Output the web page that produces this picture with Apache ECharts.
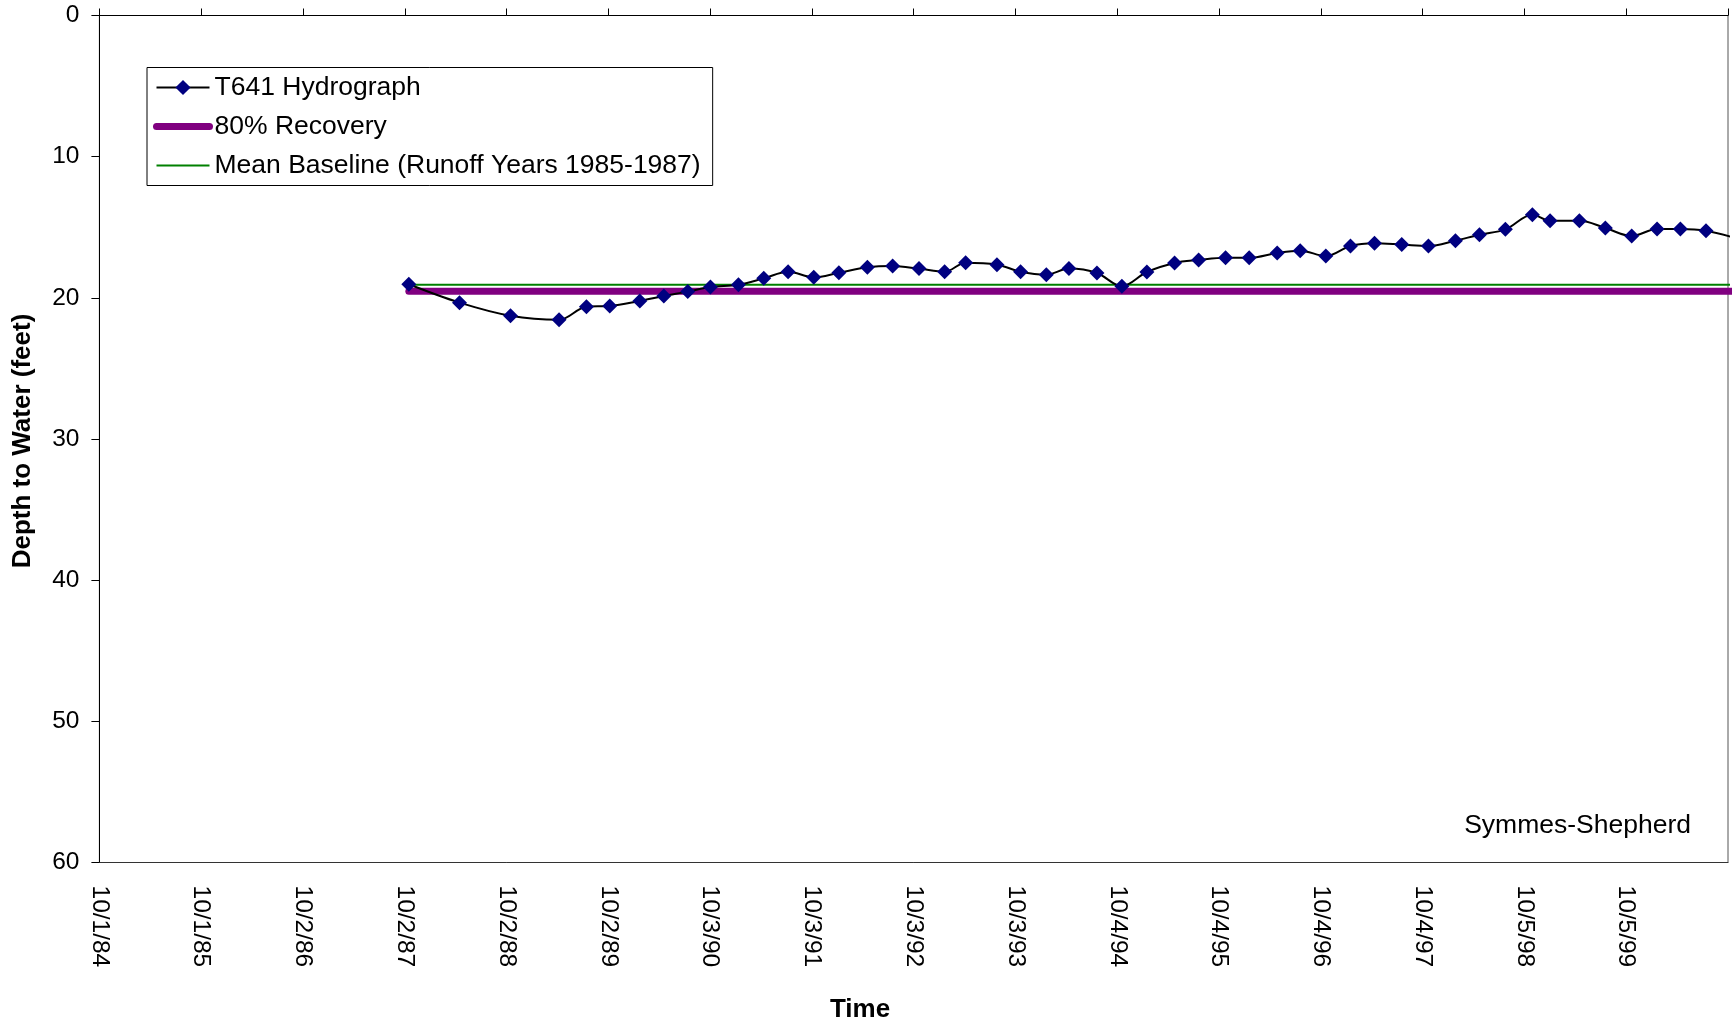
<!DOCTYPE html>
<html>
<head>
<meta charset="utf-8">
<script src="https://cdn.jsdelivr.net/npm/echarts@6/dist/echarts.min.js"></script>
<style>
html,body{margin:0;padding:0;background:#fff;}
#chart{width:1732px;height:1028px;}
</style>
</head>
<body>
<div id="chart"></div>
<script>
// X tick labels (one per year step from 10/1/84)
const tickLabels = ['10/1/84','10/1/85','10/2/86','10/2/87','10/2/88','10/2/89','10/3/90','10/3/91',
  '10/3/92','10/3/93','10/4/94','10/4/95','10/4/96','10/4/97','10/5/98','10/5/99'];

// Hydrograph: time in years after 10/1/84, depth to water (feet)
const hydroYears = [3.040,3.538,4.039,4.516,4.785,5.014,5.309,5.545,5.780,6.003,6.278,6.527,6.766,7.018,
  7.265,7.545,7.793,8.052,8.304,8.510,8.818,9.050,9.303,9.525,9.800,10.045,10.291,10.563,10.799,11.064,
  11.296,11.571,11.797,12.049,12.291,12.527,12.795,13.057,13.322,13.558,13.813,14.078,14.252,14.540,
  14.795,15.054,15.303,15.532,15.784,16.040];
const hydroDepth = [19.04,20.34,21.27,21.55,20.63,20.58,20.22,19.87,19.56,19.23,19.07,18.62,18.15,18.55,
  18.22,17.84,17.75,17.93,18.15,17.51,17.65,18.15,18.36,17.93,18.24,19.18,18.17,17.53,17.32,17.16,
  17.16,16.82,16.66,17.04,16.33,16.14,16.23,16.33,15.95,15.53,15.15,14.11,14.54,14.54,
  15.05,15.62,15.12,15.12,15.24,15.70];

// 80% Recovery and Mean Baseline levels
const recoveryYears = [3.040, 16.040];
const recoveryDepth = [19.54, 19.54];
const baselineYears = [3.040, 16.040];
const baselineDepth = [19.07, 19.07];

const yTicks = [0, 10, 20, 30, 40, 50, 60];

const FONT = 'Liberation Sans, Arial, Helvetica, sans-serif';
const zip = (a, b) => a.map((v, i) => [v, b[i]]);

const chart = echarts.init(document.getElementById('chart'), null, {renderer: 'canvas'});
chart.setOption({
  animation: false,
  backgroundColor: '#ffffff',
  grid: {left: 99.4, top: 15.5, right: 4, bottom: 165.5, containLabel: false,
    show: true, borderColor: '#555555', borderWidth: 1, backgroundColor: '#ffffff'},
  legend: {
    orient: 'vertical',
    left: 147, top: 67.5,
    padding: [5, 12, 5, 6],
    itemGap: 9,
    itemWidth: 53, itemHeight: 19,
    backgroundColor: '#ffffff',
    borderColor: '#000000', borderWidth: 1,
    textStyle: {fontFamily: FONT, fontSize: 26.5, color: '#000000', lineHeight: 30},
    data: [
      {name: 'T641 Hydrograph', itemStyle: {color: '#000080'}, lineStyle: {color: '#000000', width: 2}},
      {name: '80% Recovery', itemStyle: {opacity: 0}, lineStyle: {color: '#800080', width: 7, cap: 'round'}},
      {name: 'Mean Baseline (Runoff Years 1985-1987)', itemStyle: {opacity: 0}, lineStyle: {color: '#008000', width: 2}}
    ]
  },
  xAxis: [
    {
      type: 'value', position: 'bottom', min: 0, max: 16, interval: 1,
      axisLine: {show: true, onZero: false, lineStyle: {color: '#333333', width: 1}},
      axisTick: {show: false},
      splitLine: {show: false},
      axisLabel: {
        rotate: -90, margin: 23, fontFamily: FONT, fontSize: 24.5, color: '#000000',
        formatter: v => tickLabels[Math.round(v)] || ''
      }
    },
    {
      type: 'value', position: 'top', min: 0, max: 16, interval: 1,
      axisLine: {show: true, onZero: false, lineStyle: {color: '#000000', width: 1}},
      axisTick: {show: true, inside: false, length: 7, lineStyle: {color: '#000000', width: 1}},
      axisLabel: {show: false},
      splitLine: {show: false}
    }
  ],
  yAxis: {
    type: 'value', inverse: true, min: yTicks[0], max: yTicks[yTicks.length - 1], interval: 10,
    axisLine: {show: true, onZero: false, lineStyle: {color: '#000000', width: 1}},
    axisTick: {show: true, inside: false, length: 8, lineStyle: {color: '#000000', width: 1}},
    splitLine: {show: false},
    axisLabel: {margin: 20, fontFamily: FONT, fontSize: 24.5, color: '#000000'}
  },
  series: [
    {
      name: 'T641 Hydrograph', type: 'line', xAxisIndex: 0,
      data: zip(hydroYears, hydroDepth),
      smooth: 0.35, clip: true, z: 5,
      symbol: 'diamond', symbolSize: 15, showAllSymbol: true,
      itemStyle: {color: '#000080', borderWidth: 0},
      lineStyle: {color: '#000000', width: 2}
    },
    {
      name: '80% Recovery', type: 'line', xAxisIndex: 0,
      data: zip(recoveryYears, recoveryDepth),
      symbol: 'none', clip: true, z: 3,
      itemStyle: {color: '#800080'},
      lineStyle: {color: '#800080', width: 7, cap: 'round'}
    },
    {
      name: 'Mean Baseline (Runoff Years 1985-1987)', type: 'line', xAxisIndex: 0,
      data: zip(baselineYears, baselineDepth),
      symbol: 'none', clip: true, z: 3,
      itemStyle: {color: '#008000'},
      lineStyle: {color: '#008000', width: 2}
    }
  ],
  graphic: [
    {type: 'text', x: 22.5, y: 441, rotation: Math.PI / 2,
      style: {text: 'Depth to Water (feet)', x: 0, y: 0, align: 'center', verticalAlign: 'middle',
        font: 'bold 26px ' + FONT, fill: '#000000'}},
    {type: 'text', x: 860, y: 1010,
      style: {text: 'Time', x: 0, y: 0, align: 'center', verticalAlign: 'middle',
        font: 'bold 26px ' + FONT, fill: '#000000'}},
    {type: 'text', x: 1691, y: 826,
      style: {text: 'Symmes-Shepherd', x: 0, y: 0, align: 'right', verticalAlign: 'middle',
        font: '26.5px ' + FONT, fill: '#000000'}}
  ]
});
</script>
</body>
</html>
